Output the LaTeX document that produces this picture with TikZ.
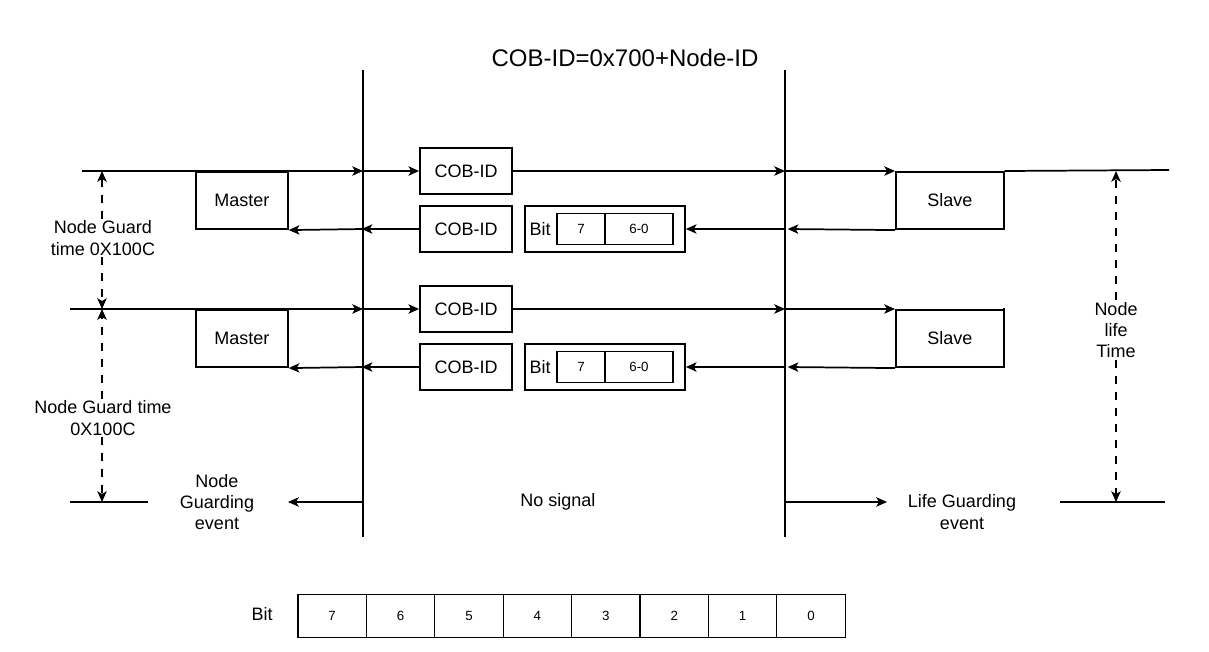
\documentclass[tikz,border=0pt]{standalone}
\usepackage{fontspec}
\setmainfont{Liberation Sans}
\usetikzlibrary{arrows.meta}
\begin{document}
\begin{tikzpicture}[x=0.75pt,y=-0.75pt,line width=1.3pt,
  >={Stealth[length=8pt,width=7pt,inset=2pt]},
  lbl/.style={font=\fontsize{13.5}{16}\selectfont,align=center,inner sep=1pt},
  box/.style={draw,line width=1.3pt,inner sep=0pt,font=\fontsize{13.5}{16}\selectfont},
  cell/.style={draw,line width=1pt,inner sep=0pt,font=\fontsize{10}{12}\selectfont},
  dsh/.style={dashed,dash pattern=on 6pt off 6pt,line width=1.3pt}]
\useasboundingbox (0,0) rectangle (1209,651);
\node[font=\fontsize{18}{21}\selectfont] (title) at (625,58) {COB-ID=0x700+Node-ID};
\coordinate (L1t) at (363,70); \coordinate (L1b) at (363,537);
\coordinate (L2t) at (785,70); \coordinate (L2b) at (785,537);
\draw (L1t) -- (L1b); \draw (L2t) -- (L2b);
\foreach \r/\yt/\xs in {1/171/82, 2/309/70} {
  \pgfmathsetmacro{\yb}{\yt+58}
  \node[box,minimum width=69pt,minimum height=43pt,anchor=north west] (M\r) at (195,\yt) {Master};
  \node[box,minimum width=81pt,minimum height=43pt,anchor=north west] (S\r) at (895,\yt) {Slave};
  \node[box,minimum width=69pt,minimum height=34pt] (C\r a) at (466,\yt) {COB-ID};
  \node[box,minimum width=69pt,minimum height=34pt] (C\r b) at (466,\yb) {COB-ID};
  \node[box,minimum width=120pt,minimum height=34pt] (B\r) at (605,\yb) {};
  \node[font=\fontsize{13.5}{16}\selectfont] at (540,\yb) {Bit};
  \node[cell,minimum width=36pt,minimum height=23pt] (B\r x) at (581,\yb) {7};
  \node[cell,minimum width=51pt,minimum height=23pt] (B\r y) at (639,\yb) {6-0};
  \coordinate (st\r) at (\xs,\yt);
  \coordinate (la\r) at (363,\yt); \coordinate (ra\r) at (785,\yt);
  \coordinate (lb\r) at (363,\yb); \coordinate (rb\r) at (785,\yb);
  \draw[->] (st\r) -- (la\r);
  \draw[->] (la\r) -- (C\r a.west);
  \draw[->] (C\r a.east) -- (ra\r);
  \draw[->] (ra\r) -- (S\r.north west);
  \draw[->] (S\r.south west) -- ([xshift=2pt]rb\r);
  \draw[->] (rb\r) -- (B\r.east);
  \draw[->] (C\r b.west) -- ([xshift=-1pt]lb\r);
  \draw[->] (lb\r) -- (M\r.south east);
}
\coordinate (e1) at (1169,170);
\draw (S1.north east) -- (e1);
\draw (S2.north east) -- (1003,309);
\draw (M1.north east) -- (287,171);
\coordinate (bl1) at (70,502); \coordinate (bl2) at (148,502);
\draw (bl1) -- (bl2);
\coordinate (br1) at (1060,502); \coordinate (br2) at (1165,502);
\draw (br1) -- (br2);
\coordinate (ev1) at (363,502); \coordinate (ev2) at (785,502);
\node[lbl] (ng) at (217,502) {Node\\Guarding\\event};
\node[lbl] (nosig) at (558,502) {No signal};
\node[lbl] (lg) at (962,512) {Life Guarding\\event};
\coordinate (lgt) at (887,502);
\coordinate (ngt) at (288,502);
\draw[->] (ev1) -- (ngt);
\draw[->] (ev2) -- (lgt);
\node[lbl,fill=white] (t1) at (103,238) {Node Guard\\time 0X100C};
\node[lbl,fill=white] (t2) at (103,418) {Node Guard time\\0X100C};
\node[lbl,fill=white] (t3) at (1116,330) {Node\\life\\Time};
\draw[dsh,->] (t1.north -| 102,0) -- (102,171);
\draw[dsh,->] (t1.south -| 102,0) -- (102,309);
\draw[dsh,->] (t2.north -| 102,0) -- (102,309);
\draw[dsh,->] (t2.south -| 102,0) -- (102,502);
\draw[dsh,->] (t3.north -| 1116,0) -- (1116,171);
\draw[dsh,->] (t3.south -| 1116,0) -- (1116,502);
\node[font=\fontsize{13.5}{16}\selectfont] (bitlbl) at (262,614) {Bit};
\foreach \v [count=\i from 0] in {7,6,5,4,3,2,1,0} {
  \node[cell,minimum width=51.3pt,minimum height=32pt] (bit\i) at ({298+68.4*\i+34.2},616) {\v};
}
\end{tikzpicture}
\end{document}
